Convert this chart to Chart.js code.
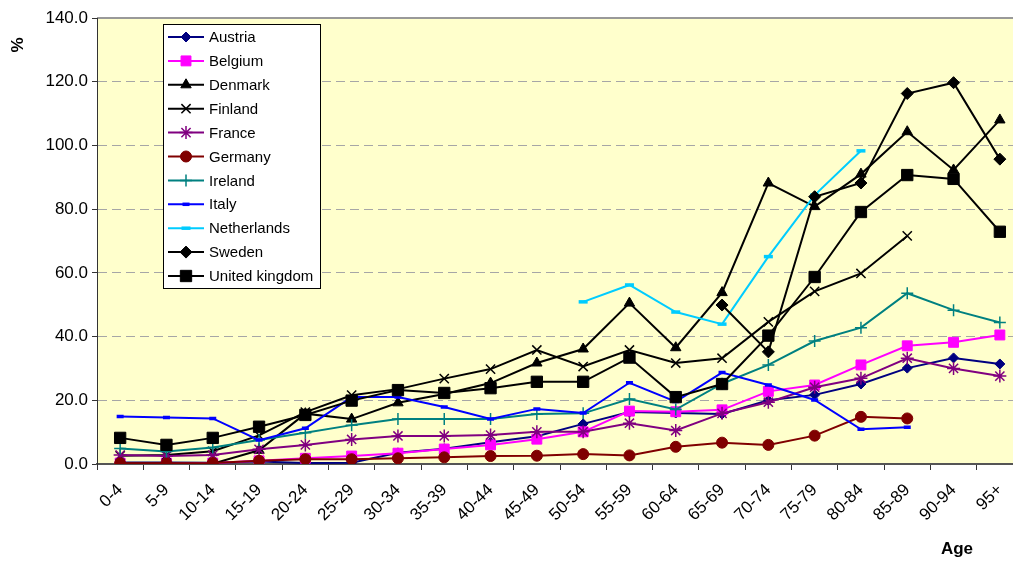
<!DOCTYPE html>
<html>
<head>
<meta charset="utf-8">
<script src="https://cdn.jsdelivr.net/npm/chart.js@4"></script>
<style>
  html, body { margin: 0; padding: 0; background: #fff; overflow: hidden; }
  #wrap { position: absolute; left: 0; top: 0; width: 1040px; height: 562px; }
</style>
</head>
<body>
<div id="wrap"><canvas id="grafico" width="1040" height="562"></canvas></div>
<script>
// age groups on the x axis
const faixas = ['0-4', '5-9', '10-14', '15-19', '20-24', '25-29', '30-34', '35-39', '40-44', '45-49',
    '50-54', '55-59', '60-64', '65-69', '70-74', '75-79', '80-84', '85-89', '90-94', '95+'];

// rates per country, in %
const austria = [0.5, 0.5, 0.4, 0.8, 0.3, 0.4, 3.5, 4.8, 6.8, 8.7, 12.6, 16.3, 16.0, 15.7, 20.0, 21.7, 25.1, 30.1, 33.3, 31.4];
const belgium = [0.3, 0.3, 0.3, 1.0, 1.8, 2.5, 3.4, 4.7, 6.0, 7.8, 10.1, 16.6, 16.4, 17.0, 22.8, 24.8, 31.1, 37.1, 38.2, 40.5];
const denmark = [0.2, 0.2, 0.1, 4.3, 15.8, 14.1, 19.2, 22.0, 25.4, 31.7, 36.1, 50.5, 36.5, 53.8, 88.2, 80.8, 91.0, 104.3, 92.3, 108.0];
const finland = [2.6, 2.8, 4.0, 9.0, 16.3, 21.6, 23.5, 26.8, 29.8, 35.8, 30.6, 35.8, 31.7, 33.2, 44.6, 54.2, 59.8, 71.6, null, null];
const france = [2.8, 2.5, 2.8, 4.6, 6.0, 7.7, 8.8, 8.8, 9.1, 10.1, 10.1, 12.8, 10.5, 15.9, 19.4, 24.1, 26.9, 33.2, 30.0, 27.6];
const germany = [0.2, 0.2, 0.3, 1.0, 1.5, 1.5, 1.8, 2.1, 2.5, 2.6, 3.1, 2.7, 5.4, 6.7, 6.0, 8.9, 14.8, 14.3, null, null];
const ireland = [4.9, 3.9, 5.2, 7.5, 9.8, 12.2, 14.1, 14.1, 14.1, 15.7, 15.9, 20.4, 17.1, 25.2, 31.1, 38.6, 42.8, 53.6, 48.3, 44.4];
const italy = [14.9, 14.6, 14.3, 7.5, 11.2, 21.0, 21.0, 17.9, 14.1, 17.3, 16.0, 25.5, 19.6, 28.7, 24.8, 20.1, 10.9, 11.5, null, null];
const netherlands = [null, null, null, null, null, null, null, null, null, null, 50.9, 56.2, 47.7, 43.9, 65.1, 84.4, 98.3, null, null, null];
const sweden = [null, null, null, null, null, null, null, null, null, null, null, null, null, 49.9, 35.2, 83.9, 88.2, 116.3, 119.7, 95.7];
const unitedKingdom = [8.2, 6.0, 8.2, 11.7, 15.4, 19.9, 23.2, 22.3, 23.8, 25.8, 25.8, 33.4, 21.0, 25.1, 40.3, 58.7, 79.1, 90.7, 89.5, 72.9];

// y axis ticks
const marcasY = [0, 20, 40, 60, 80, 100, 120, 140];

const series = [
    { nome: 'Austria', dados: austria, cor: '#000080', estilo: 'rectRot', raio: 5, borda: 1 },
    { nome: 'Belgium', dados: belgium, cor: '#FF00FF', estilo: 'rect', raio: 7, borda: 1 },
    { nome: 'Denmark', dados: denmark, cor: '#000000', estilo: 'triangle', raio: 6, borda: 1 },
    { nome: 'Finland', dados: finland, cor: '#000000', estilo: 'crossRot', raio: 6.5, borda: 1.5 },
    { nome: 'France', dados: france, cor: '#800080', estilo: 'star', raio: 6.5, borda: 1.5 },
    { nome: 'Germany', dados: germany, cor: '#800000', estilo: 'circle', raio: 5.5, borda: 1 },
    { nome: 'Ireland', dados: ireland, cor: '#008080', estilo: 'cross', raio: 6, borda: 1.5 },
    { nome: 'Italy', dados: italy, cor: '#0000FF', estilo: 'line', raio: 3.5, borda: 3.5 },
    { nome: 'Netherlands', dados: netherlands, cor: '#00CCFF', estilo: 'line', raio: 4.5, borda: 3.5 },
    { nome: 'Sweden', dados: sweden, cor: '#000000', estilo: 'rectRot', raio: 6, borda: 1 },
    { nome: 'United kingdom', dados: unitedKingdom, cor: '#000000', estilo: 'rect', raio: 8, borda: 1 }
];

const datasets = series.map((s, i) => ({
    label: s.nome,
    data: s.dados,
    borderColor: s.cor,
    backgroundColor: s.cor,
    borderWidth: 2,
    pointStyle: s.estilo,
    pointRadius: s.raio,
    pointBorderWidth: s.borda,
    pointBackgroundColor: s.cor,
    pointBorderColor: s.cor,
    tension: 0,
    spanGaps: false,
    order: series.length - i
}));

const AREA_ESQ = 97, AREA_TOPO = 18, AREA_BASE = 464;

// yellow plot background and the grey top edge
const fundoPlot = {
    id: 'fundoPlot',
    beforeDraw(chart) {
        const { ctx, chartArea: a } = chart;
        ctx.save();
        ctx.fillStyle = '#FFFFCC';
        ctx.fillRect(a.left, a.top, a.right - a.left, a.bottom - a.top);
        ctx.strokeStyle = '#999999';
        ctx.lineWidth = 2;
        ctx.beginPath();
        ctx.moveTo(a.left, a.top);
        ctx.lineTo(a.right, a.top);
        ctx.stroke();
        ctx.restore();
    }
};

// axis titles and the boxed legend inside the plot
const extras = {
    id: 'extras',
    afterDraw(chart) {
        const ctx = chart.ctx;
        ctx.save();
        ctx.fillStyle = '#000';
        ctx.font = 'bold 17px "Liberation Sans", Arial, sans-serif';
        ctx.textAlign = 'center';
        ctx.textBaseline = 'middle';
        ctx.fillText('Age', 957, 549);
        ctx.translate(18, 45);
        ctx.rotate(-Math.PI / 2);
        ctx.fillText('%', 0, 0);
        ctx.restore();

        const bx = 163, by = 24, bw = 157, bh = 264;
        ctx.save();
        ctx.fillStyle = '#FFFFFF';
        ctx.fillRect(bx, by, bw, bh);
        ctx.strokeStyle = '#000';
        ctx.lineWidth = 1;
        ctx.strokeRect(bx + 0.5, by + 0.5, bw, bh);
        ctx.font = '15px "Liberation Sans", Arial, sans-serif';
        ctx.textAlign = 'left';
        ctx.textBaseline = 'middle';
        series.forEach((s, i) => {
            const y = 37 + i * 23.9;
            ctx.strokeStyle = s.cor;
            ctx.lineWidth = 2;
            ctx.beginPath();
            ctx.moveTo(168, y);
            ctx.lineTo(204, y);
            ctx.stroke();
            ctx.fillStyle = s.cor;
            ctx.lineWidth = s.borda;
            Chart.helpers.drawPoint(ctx, { pointStyle: s.estilo, radius: s.raio, rotation: 0, borderWidth: s.borda }, 186, y);
            ctx.fillStyle = '#000';
            ctx.fillText(s.nome, 209, y + 1);
        });
        ctx.restore();
    }
};

const ctx = document.getElementById('grafico');

myChart = new Chart(ctx, {
    type: 'line',
    data: {
        labels: faixas,
        datasets: datasets
    },
    plugins: [fundoPlot, extras],
    options: {
        responsive: false,
        animation: false,
        devicePixelRatio: 1,
        layout: {
            padding: { left: 0, top: AREA_TOPO, right: 17, bottom: 0 }
        },
        plugins: {
            legend: { display: false },
            tooltip: { enabled: false },
            title: { display: false }
        },
        scales: {
            x: {
                type: 'category',
                offset: true,
                afterFit: (scale) => { scale.height = 562 - AREA_BASE; },
                grid: {
                    offset: true,
                    drawOnChartArea: false,
                    drawTicks: true,
                    tickLength: 6,
                    color: '#333333'
                },
                border: { display: true, color: '#555555', width: 2 },
                ticks: {
                    autoSkip: false,
                    maxRotation: 45,
                    minRotation: 45,
                    padding: 10,
                    color: '#000',
                    font: { family: '"Liberation Sans", Arial, sans-serif', size: 17 }
                }
            },
            y: {
                min: 0,
                max: 140,
                afterFit: (scale) => { scale.width = AREA_ESQ; },
                afterBuildTicks: (scale) => { scale.ticks = marcasY.map(v => ({ value: v })); },
                grid: {
                    drawTicks: true,
                    tickLength: 5,
                    tickColor: '#333333',
                    tickBorderDash: [],
                    lineWidth: 1,
                    color: (c) => (c.tick && (c.tick.value === 0 || c.tick.value === 140)) ? 'rgba(0,0,0,0)' : '#A6A6A6'
                },
                border: { display: true, color: '#333333', width: 1, dash: [9, 5] },
                ticks: {
                    padding: 4,
                    color: '#000',
                    font: { family: '"Liberation Sans", Arial, sans-serif', size: 17 },
                    callback: (v) => Number(v).toFixed(1)
                }
            }
        }
    }
});
</script>
</body>
</html>
